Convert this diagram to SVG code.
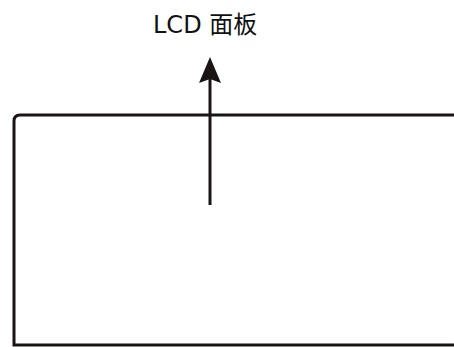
<svg xmlns="http://www.w3.org/2000/svg" width="454" height="347" viewBox="0 0 454 347">
<style>
.ln{fill:none;stroke:#1a1414;stroke-width:3;}
.lbl{font-family:"DejaVu Sans","Noto Sans CJK SC",sans-serif;font-size:24px;fill:#111;}
</style>
<defs>
<marker id="ah" viewBox="0 0 26 22" refX="13" refY="11" markerWidth="26" markerHeight="22" markerUnits="userSpaceOnUse" orient="auto">
<path d="M0,0 L26,11 L0,22 L4,11 Z" fill="#1a1414"/>
</marker>
</defs>
<rect width="454" height="347" fill="#fff"/>
<g id="panel">
<path class="ln" d="M456,115 H20 Q14,115 14,121 V345 H456"/>
</g>
<g id="label">
<text class="lbl" x="153" y="33">LCD 面板</text>
</g>
<g id="connectors">
<line class="ln" x1="210" y1="205" x2="210" y2="70" marker-end="url(#ah)"/>
</g>
</svg>
